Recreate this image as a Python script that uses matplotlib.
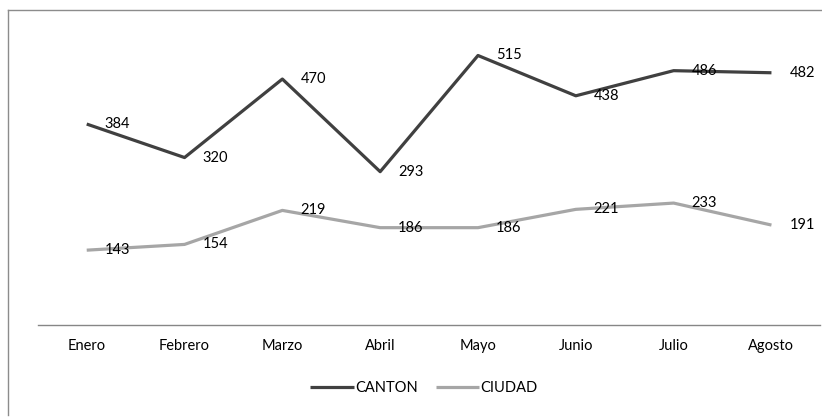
import matplotlib
matplotlib.use("Agg")
import matplotlib.pyplot as plt
from matplotlib.lines import Line2D

months = ['Enero', 'Febrero', 'Marzo', 'Abril', 'Mayo', 'Junio', 'Julio', 'Agosto']
canton = [384, 320, 470, 293, 515, 438, 486, 482]
ciudad = [143, 154, 219, 186, 186, 221, 233, 191]

plt.rcParams['font.family'] = ['Lato', 'DejaVu Sans']

fig = plt.figure(figsize=(8.22, 4.17), dpi=100)
ax = fig.add_axes([0.046, 0.2206, 0.952, 0.753])

x = list(range(len(months)))
ax.plot(x, canton, color='#404040', lw=2.3, label='CANTON', solid_capstyle='butt')
ax.plot(x, ciudad, color='#a6a6a6', lw=2.3, label='CIUDAD', solid_capstyle='butt')

for xi, v in zip(x, canton):
    ax.annotate(str(v), (xi, v), xytext=(18, 0), textcoords='offset pixels',
                ha='left', va='center', fontsize=10.5, color='#000000')
for xi, v in zip(x, ciudad):
    ax.annotate(str(v), (xi, v), xytext=(18, 0), textcoords='offset pixels',
                ha='left', va='center', fontsize=10.5, color='#000000')

ax.set_xlim(-0.5, 7.5)
ax.set_ylim(0, 600)
ax.set_xticks(x)
ax.set_xticklabels(months, fontsize=10.5, color='#000000')
ax.tick_params(axis='x', length=0, pad=10)
ax.set_yticks([])
for s in ['top', 'right', 'left']:
    ax.spines[s].set_visible(False)
ax.spines['bottom'].set_color('#868686')
ax.spines['bottom'].set_linewidth(1)

ax.legend(loc='center', bbox_to_anchor=(424 / 822, 1 - 388 / 417),
          bbox_transform=fig.transFigure, ncol=2, frameon=False,
          fontsize=10.5, handlelength=3.0, handletextpad=0.1, columnspacing=1.2)

# outer border (left and top only visible)
fig.add_artist(Line2D([8 / 822, 8 / 822], [1 - 10 / 417, 1 - 415 / 417],
                      transform=fig.transFigure, color='#8c8c8c', lw=1))
fig.add_artist(Line2D([8 / 822, 1.0], [1 - 10 / 417, 1 - 10 / 417],
                      transform=fig.transFigure, color='#8c8c8c', lw=1))

fig.savefig('out.png', dpi=100)
